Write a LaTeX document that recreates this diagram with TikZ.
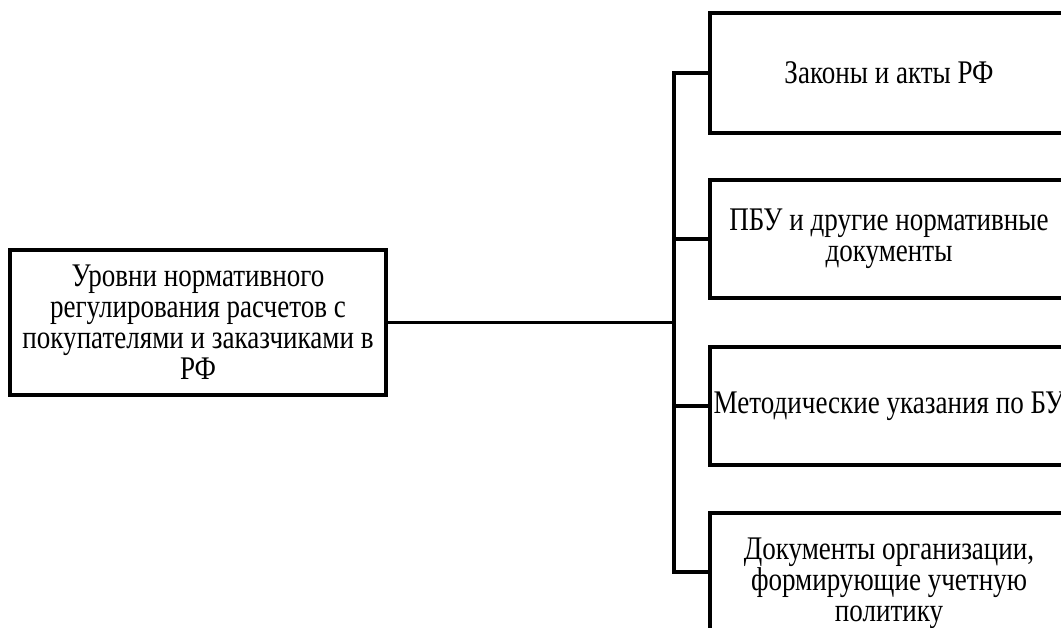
\documentclass[tikz,border=0pt]{standalone}
\usepackage{fontspec}
\setmainfont[FakeStretch=0.82]{Liberation Serif}

\begin{document}
\begin{tikzpicture}[x=1pt,y=1pt,line width=3.5pt,
    box/.style={draw,align=center,inner sep=0pt,minimum width=358pt,minimum height=118pt,
        font=\fontsize{33}{31}\selectfont}]
    \useasboundingbox (0,0) rectangle (1061,628);
    \clip (0,0) rectangle (1061,628);

    \node[box,minimum width=376pt,minimum height=145pt] (levels) at (198,305.5)
        {Уровни нормативного\\регулирования расчетов с\\покупателями и заказчиками в\\РФ};

    \node[box,minimum height=120pt] (laws) at (889,555) {Законы и акты РФ};
    \node[box] (pbu) at (889,389) {ПБУ и другие нормативные\\документы};
    \node[box] (method) at (889,222) {Методические указания по БУ};
    \node[box,minimum height=140pt] (docs) at (889,45)
        {Документы организации,\\формирующие учетную\\политику};

    \coordinate (bus) at (674,305.5);
    \coordinate (docsin) at ([yshift=11pt]docs.west);

    \draw (levels.east) -- (bus);
    \draw (laws.west) -- (bus |- laws.west) -- (bus |- docsin) -- (docsin);

    \foreach \n in {pbu,method}{
        \draw (bus |- \n.west) -- (\n.west);
    }

\end{tikzpicture}
\end{document}
